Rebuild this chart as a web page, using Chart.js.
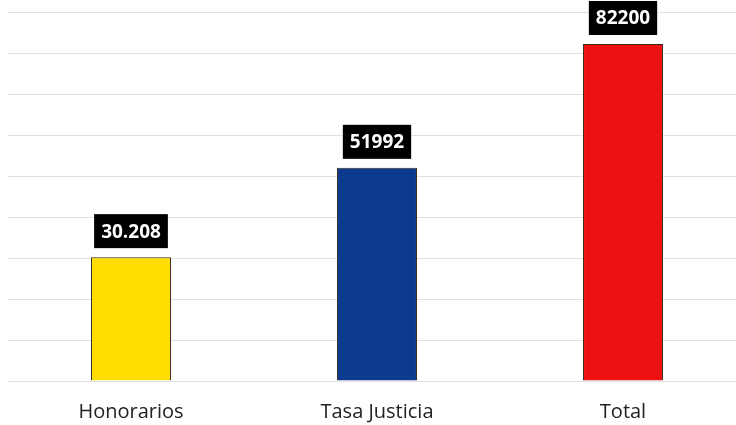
<!DOCTYPE html>
<html>
<head>
<meta charset="utf-8">
<script src="https://cdn.jsdelivr.net/npm/chart.js@4/dist/chart.umd.min.js"></script>
<style>
  html, body { margin: 0; padding: 0; background: #ffffff; overflow: hidden; }
  #wrap { position: relative; width: 736px; height: 425px; overflow: hidden; }
</style>
</head>
<body>
<div id="wrap"><canvas id="c" width="760" height="443"></canvas></div>
<script>
const categories = ["Honorarios", "Tasa Justicia", "Total"];
const values = [30208, 51992, 82200];
const valueLabels = ["30.208", "51992", "82200"];
const barColors = ["#FFDD00", "#0B3A8E", "#EE1111"];

const boxLabels = {
  id: "boxLabels",
  afterDatasetsDraw(chart) {
    const ctx = chart.ctx;
    const meta = chart.getDatasetMeta(0);
    ctx.save();
    ctx.font = "bold 19px 'Open Sans', sans-serif";
    ctx.textAlign = "center";
    ctx.textBaseline = "middle";
    meta.data.forEach((bar, i) => {
      const txt = valueLabels[i];
      const w = ctx.measureText(txt).width + 14;
      const h = 34;
      const bottom = bar.y - 9;
      ctx.fillStyle = "#000000";
      ctx.fillRect(bar.x - w / 2, bottom - h, w, h);
      ctx.fillStyle = "#ffffff";
      ctx.fillText(txt, bar.x, bottom - h / 2 + 1);
    });
    ctx.restore();
  }
};

new Chart(document.getElementById("c"), {
  type: "bar",
  data: {
    labels: categories,
    datasets: [{
      data: values,
      backgroundColor: barColors,
      borderColor: "#3a2a1a",
      borderWidth: 1,
      barPercentage: 0.65,
      categoryPercentage: 0.5
    }]
  },
  options: {
    responsive: false,
    animation: false,
    layout: { padding: { left: 8, right: 14, top: 12, bottom: 0 } },
    plugins: { legend: { display: false }, tooltip: { enabled: false } },
    scales: {
      x: {
        grid: { display: false, drawTicks: false },
        border: { display: false },
        ticks: { color: "#222222", padding: 19, font: { family: "'Open Sans', sans-serif", size: 20 } }
      },
      y: {
        min: 0, max: 90000,
        ticks: { display: false, stepSize: 10000 },
        grid: { color: "#e0e0e0", lineWidth: 1, drawTicks: false },
        border: { display: false }
      }
    }
  },
  plugins: [boxLabels]
});
</script>
</body>
</html>
